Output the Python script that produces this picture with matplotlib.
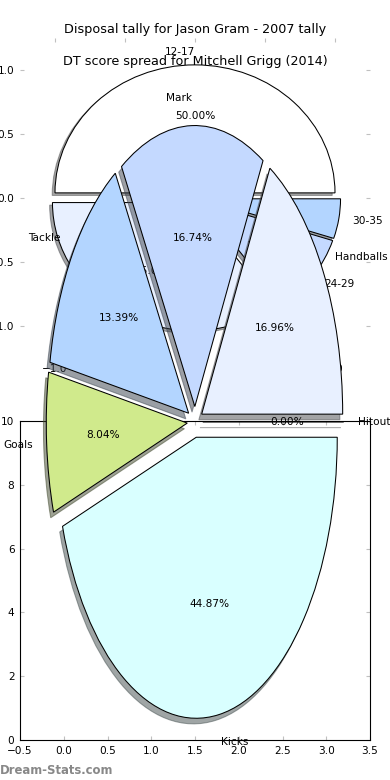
import matplotlib
matplotlib.use('Agg')
import matplotlib.pyplot as plt

# DT score spread for Mitchell Grigg (2014) - games per score band
dt_labels = ['12-17', '18-23', '24-29', '30-35']
dt_games = [10, 7, 2, 1]

# Disposal tally for Jason Gram (2007)
disp_labels = ['Hitout', 'Handballs', 'Mark', 'Tackle', 'Goals', 'Kicks']
disp_counts = [0, 76, 75, 60, 36, 201]

pie_colors = ['#ffffff', '#e8f0ff', '#c4d9ff', '#b3d5ff', '#d0ea8c', '#d9ffff']

# ticks of the leftover axes
top_ticks = [-1.0, -0.5, 0.0, 0.5, 1.0]
bottom_xticks = [-0.5, 0.0, 0.5, 1.0, 1.5, 2.0, 2.5, 3.0, 3.5]
bottom_yticks = [0, 2, 4, 6, 8, 10]

W, H = 390, 780
fig = plt.figure(figsize=(W / 100, H / 100), dpi=100)


def px_rect(left, top, width, height):
    """axes rectangle given in pixels from the top-left corner"""
    return [left / W, 1 - (top + height) / H, width / W, height / H]


label_size = 7.6
edge = dict(edgecolor='black', linewidth=0.75)
# shadow offset is scaled by dpi/72 in recent matplotlib, undo that
shadow = dict(ox=-0.02 * 72 / 100, oy=-0.02 * 72 / 100)


def style_ticks(ax):
    ax.tick_params(direction='in', length=3, width=0.8, color='#c0c0c0',
                   labelsize=label_size, pad=4, top=True, right=True)


# 1. DT score spread pie (drawn first, underneath)
ax_top = fig.add_axes(px_rect(20, 38, 350, 320))
ax_top.pie(dt_games, labels=dt_labels, colors=pie_colors[:len(dt_games)],
           explode=[0.04] * len(dt_games), autopct='%1.2f%%', shadow=shadow,
           startangle=0, wedgeprops=edge, textprops=dict(fontsize=label_size))
ax_top.set_aspect('auto')
ax_top.set_xlim(-1.25, 1.25)
ax_top.set_ylim(-1.25, 1.25)
ax_top.set_xticks(top_ticks)
ax_top.set_yticks(top_ticks)
style_ticks(ax_top)

# 2. stray empty axes left over below
ax_bot = fig.add_axes(px_rect(20, 421, 350, 319))
ax_bot.set_facecolor('none')
ax_bot.set_xlim(-0.5, 3.5)
ax_bot.set_ylim(0, 10)
ax_bot.set_xticks(bottom_xticks)
ax_bot.set_yticks(bottom_yticks)
for sp in ax_bot.spines.values():
    sp.set_linewidth(0.8)
style_ticks(ax_bot)

# 3. disposal tally pie on top of everything (stretched, no equal aspect)
ax_pie = fig.add_axes([0, 0, 1, 1])
ax_pie.set_facecolor('none')
ax_pie.pie(disp_counts, labels=disp_labels, colors=pie_colors,
           explode=[0.055] * len(disp_counts), autopct='%1.2f%%', shadow=shadow,
           startangle=0, wedgeprops=edge, textprops=dict(fontsize=label_size))
ax_pie.set_aspect('auto')
ax_pie.set_xlim(-195 / 141, 195 / 141)
ax_pie.set_ylim(-358 / 281, 422 / 281)
ax_pie.axis('off')

fig.text(0.5, 1 - 30 / H, 'Disposal tally for Jason Gram - 2007 tally',
         ha='center', va='center', fontsize=9.2)
fig.text(0.5, 1 - 61 / H, 'DT score spread for Mitchell Grigg (2014)',
         ha='center', va='center', fontsize=9.2)
fig.text(0.0, 1 - 770 / H, 'Dream-Stats.com', ha='left', va='center',
         fontsize=8.4, color='#888888', fontweight='semibold')

fig.savefig('out.png', dpi=100)
